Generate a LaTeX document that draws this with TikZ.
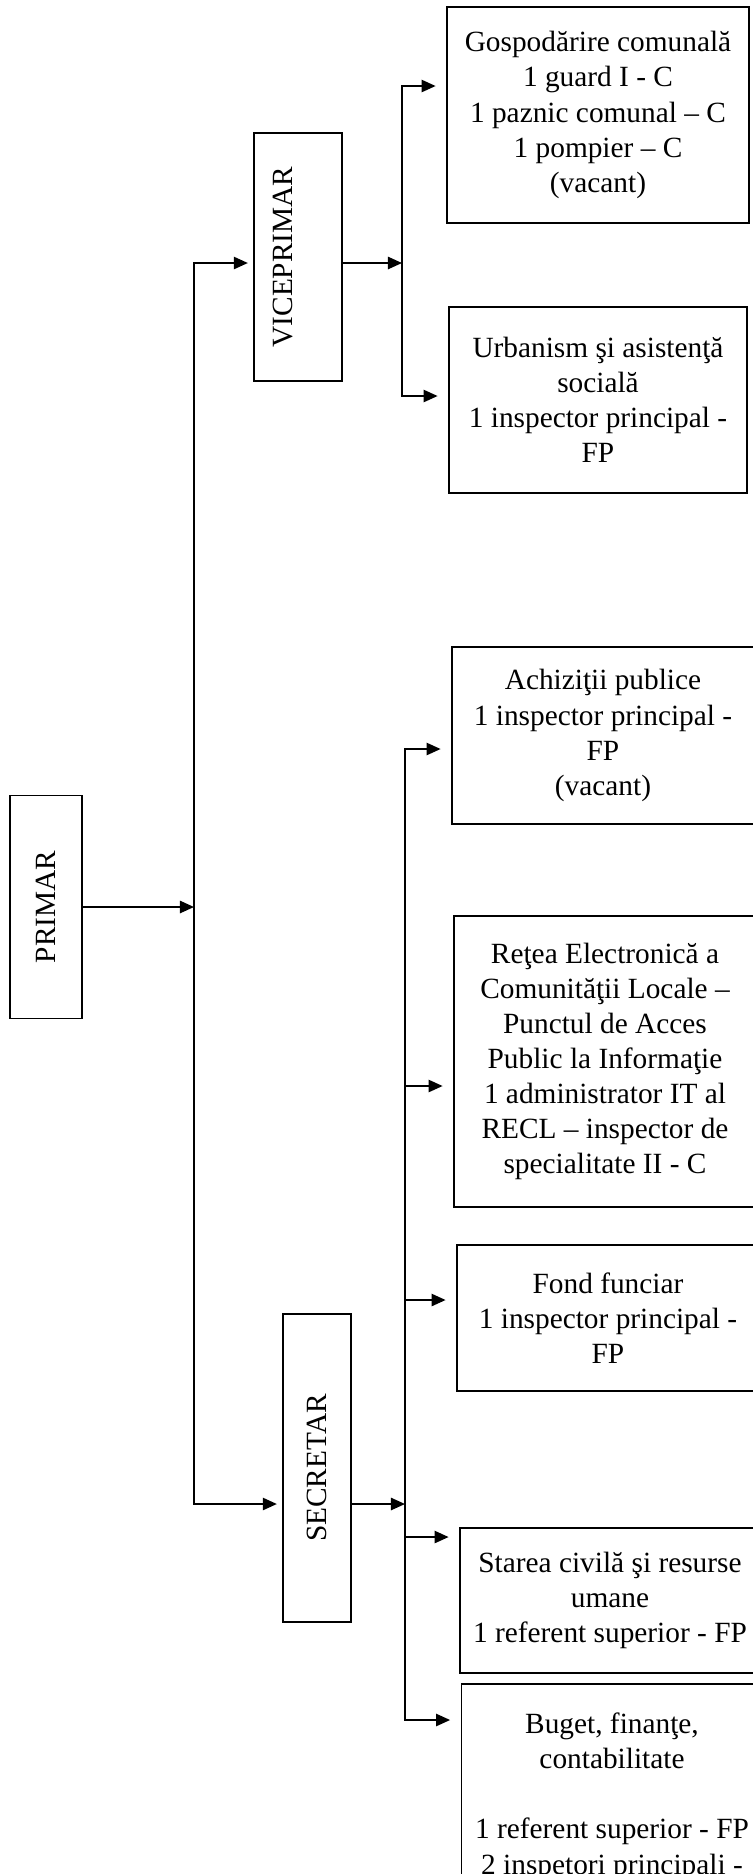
\documentclass[tikz,border=0pt]{standalone}
\usepackage{graphicx}
\usepackage{fontspec}
\setmainfont{Liberation Serif}
\usetikzlibrary{
    arrows.meta,
    calc
}

\begin{document}
\begin{tikzpicture}[
            x=0.02cm, y=-0.02cm,
            font=\fontsize{16.7}{20}\selectfont,
            every node/.style={inner sep=2pt},
            box/.style={draw, line width=1pt, align=center},
            arr/.style={-{Triangle[length=8pt,width=7pt]}, line width=1pt},
            toBox/.style={arr, shorten >=6pt},
            toHead/.style={arr, shorten >=3pt},
        ]
          % Page frame
          \useasboundingbox (0,0) rectangle (753,1874);
          \clip (0,0) rectangle (753,1874);

          % Left column
          \node[box, minimum width=1.44cm, minimum height=4.46cm] (primar) at (46,907) {\rotatebox{90}{PRIMAR}};
          \node[box, minimum width=1.76cm, minimum height=4.96cm] (vice) at (298,257) {\rotatebox{90}{VICEPRIMAR\rule[-0.6cm]{0pt}{0pt}}};
          \node[box, minimum width=1.36cm, minimum height=6.16cm] (secr) at (317,1468) {\rotatebox{90}{SECRETAR}};

          % Compartments under VICEPRIMAR
          \node[box, minimum width=6.04cm, minimum height=4.32cm] (gosp) at (598,115)
            {Gospodărire comunală\\1 guard I - C\\1 paznic comunal – C\\1 pompier – C\\(vacant)};
          \node[box, minimum width=5.96cm, minimum height=3.72cm] (urban) at (598,400)
            {Urbanism şi asistenţă\\socială\\1 inspector principal -\\FP};

          % Compartments under SECRETAR
          \node[box, minimum width=6.04cm, minimum height=3.54cm] (achiz) at (603,735.5)
            {Achiziţii publice\\1 inspector principal -\\FP\\(vacant)};
          \node[box, minimum width=6.04cm, minimum height=5.82cm] (retea) at (605,1061.5)
            {Reţea Electronică a\\Comunităţii Locale –\\Punctul de Acces\\Public la Informaţie\\1 administrator IT al\\RECL – inspector de\\specialitate II - C};
          \node[box, minimum width=6.04cm, minimum height=2.92cm] (fond) at (608,1318)
            {Fond funciar\\1 inspector principal -\\FP};
          \node[box, minimum width=6.0cm, minimum height=2.9cm] (starea) at (610,1600.5)
            {Starea civilă şi resurse\\umane\\1 referent superior - FP};
          \node[box, anchor=north, minimum width=6.02cm, inner ysep=0.58cm] (buget) at (612,1683)
            {Buget, finanţe,\\contabilitate\\[20pt]1 referent superior - FP\\2 inspetori principali -};

          % Trunk and branch points
          \coordinate (tr) at (194,907);
          \coordinate (vb) at (402,263);
          \coordinate (sb) at (405,1504);

          % PRIMAR to the trunk
          \draw[arr] (primar.east) -- (tr);
          \draw[toHead] (tr) |- ([yshift=-0.12cm]vice.west);
          \draw[toHead] (tr) |- ([yshift=-0.72cm]secr.west);

          % Heads to their branch lines
          \draw[arr] (vice.east |- vb) -- (vb);
          \draw[arr] (secr.east |- sb) -- (sb);

          % Branches
          \foreach \n/\s in {gosp/0.58, urban/0.08}
            \draw[toBox] (vb) |- ([yshift=\s cm]\n.west);
          \foreach \n/\s in {achiz/-0.27, retea/-0.49, fond/0.36, starea/1.27}
            \draw[toBox] (sb) |- ([yshift=\s cm]\n.west);
          \draw[toBox] (sb) |- ([yshift=-0.74cm]buget.north west);
        \end{tikzpicture}
\end{document}
